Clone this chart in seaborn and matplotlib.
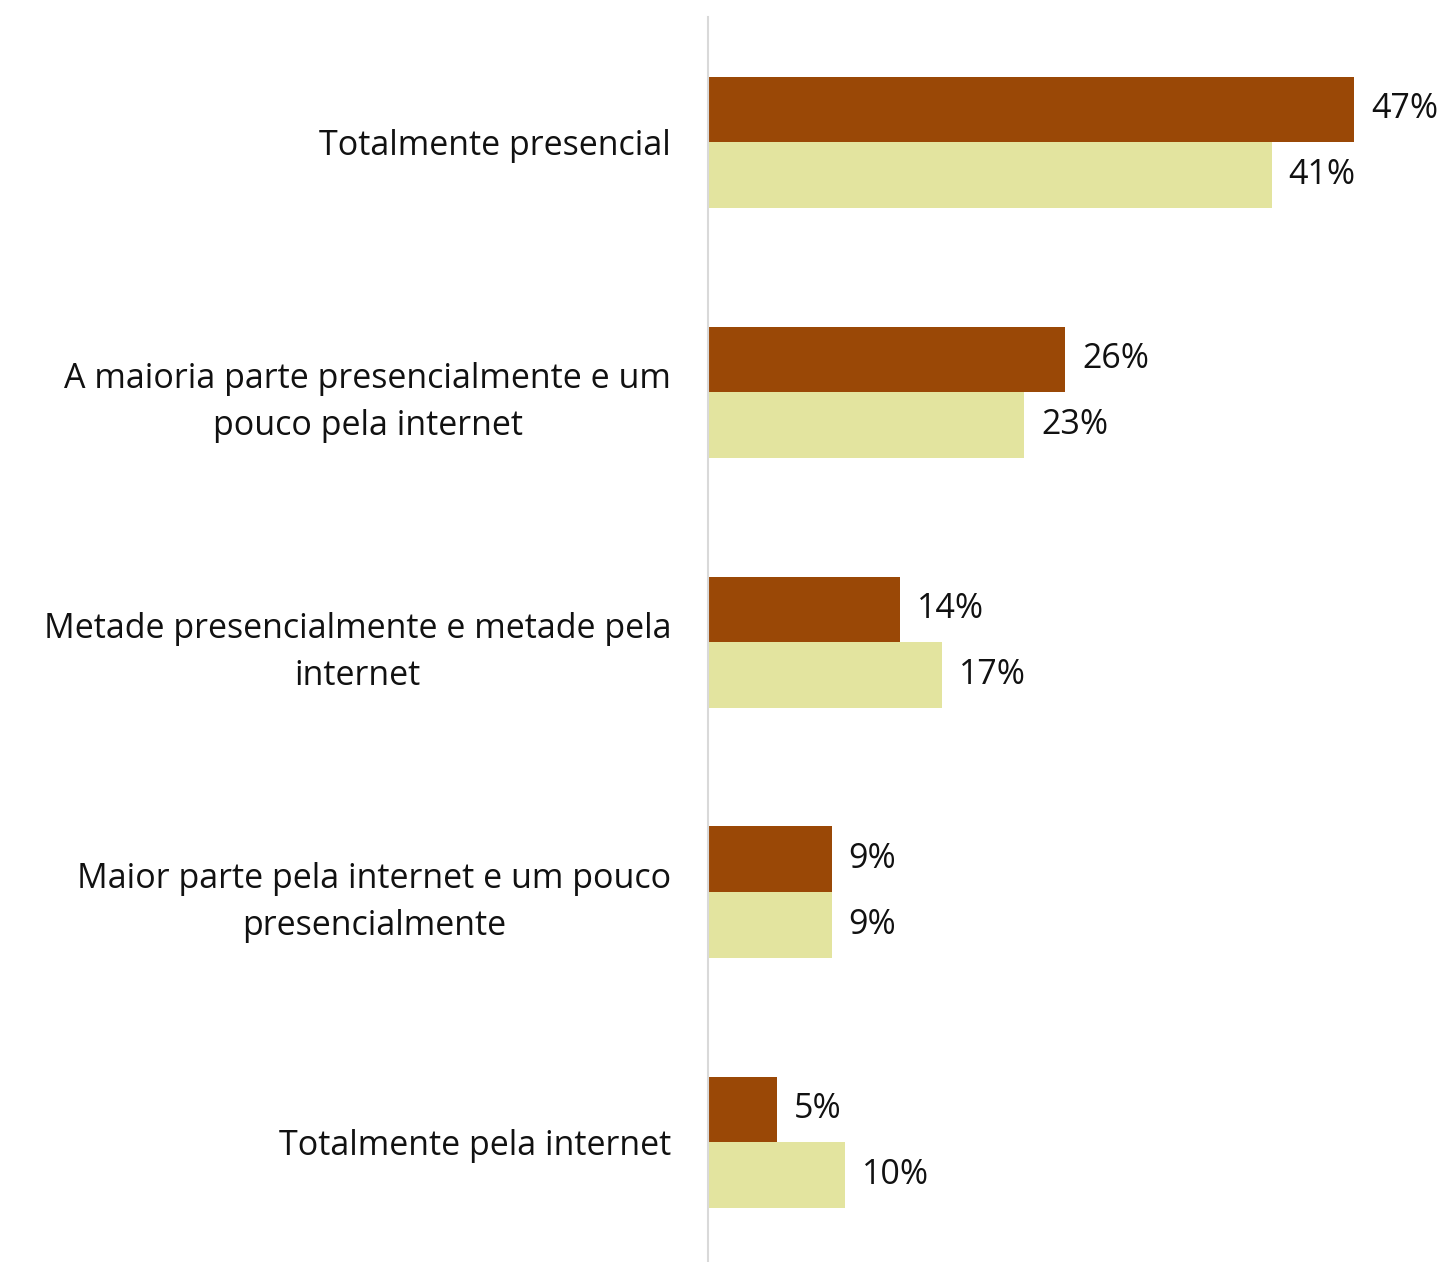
import matplotlib
matplotlib.use("Agg")
import matplotlib.pyplot as plt
import seaborn as sns
import pandas as pd

categories = [
    "Totalmente presencial",
    "A maioria parte presencialmente e um\npouco pela internet",
    "Metade presencialmente e metade pela\ninternet",
    "Maior parte pela internet e um pouco\npresencialmente",
    "Totalmente pela internet",
]
series_names = ["Grupo A", "Grupo B"]
values_a = [47, 26, 14, 9, 5]
values_b = [41, 23, 17, 9, 10]
colors = ["#9A4806", "#E3E49F"]

df = pd.DataFrame({
    "categoria": categories * 2,
    "serie": [series_names[0]] * len(categories) + [series_names[1]] * len(categories),
    "valor": values_a + values_b,
})

sns.set_theme(style="white")
plt.rcParams["font.family"] = ["Open Sans", "DejaVu Sans"]

DPI = 100
W, H = 1441, 1262
fig = plt.figure(figsize=(W / DPI, H / DPI), dpi=DPI)
ax_left, ax_top = 708, 17
ax_h = 1250
ax = fig.add_axes([ax_left / W, (H - ax_top - ax_h) / H, (W - ax_left) / W, ax_h / H])

sns.barplot(data=df, y="categoria", x="valor", hue="serie", order=categories,
            hue_order=series_names, palette=colors, orient="h", width=0.524,
            dodge=True, saturation=1, legend=False, linewidth=0, ax=ax)

px_per_unit = 646 / 47
ax.set_xlim(0, (W - ax_left) / px_per_unit)
ax.set_ylim(len(categories) - 0.5, -0.5)

px = 72 / DPI  # points per pixel
for container in ax.containers:
    ax.bar_label(container, labels=[f"{v:.0f}%" for v in container.datavalues],
                 padding=17 * px, fontsize=24.5, color="#111111")

ax.set_xlabel("")
ax.set_ylabel("")
ax.set_xticks([])
ax.tick_params(axis="y", length=0, pad=37 * px)
for lbl in ax.get_yticklabels():
    lbl.set_fontsize(24.5)
    lbl.set_color("#111111")
    lbl.set_horizontalalignment("right")
    lbl.set_multialignment("center")
    lbl.set_linespacing(1.5)

for side in ["top", "right", "bottom"]:
    ax.spines[side].set_visible(False)
ax.spines["left"].set_color("#D9D9D9")
ax.spines["left"].set_linewidth(1.5)

fig.savefig("out.png", dpi=DPI)
